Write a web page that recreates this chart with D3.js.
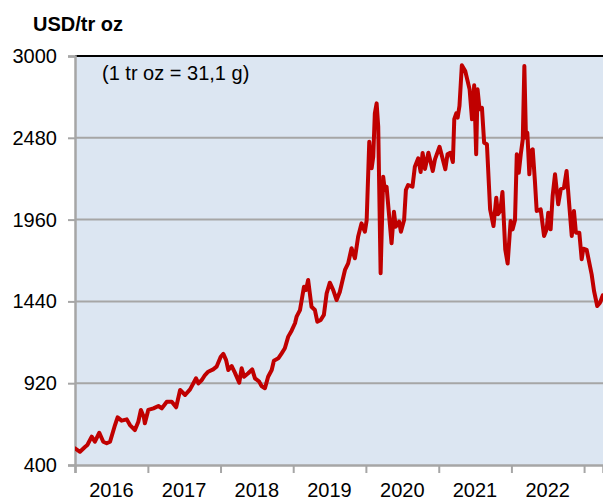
<!DOCTYPE html>
<html><head><meta charset="utf-8">
<script src="https://cdn.jsdelivr.net/npm/d3@7"></script>
<style>
body{margin:0;background:#fff}
svg{display:block}
text{font-family:"Liberation Sans",Arial,Helvetica,sans-serif;fill:#000}
</style>
</head><body>
<svg id="chart" width="603" height="500"></svg>
<script>
// ---- data (palladium price, USD per troy ounce) ----
const dates = [
"2016-01-01","2016-01-26","2016-02-20","2016-03-03","2016-03-25","2016-04-10","2016-05-02","2016-05-22","2016-06-08","2016-06-25",
"2016-07-20","2016-08-02","2016-08-22","2016-09-17","2016-10-03","2016-10-28","2016-11-14","2016-11-27","2016-12-12","2016-12-17",
"2017-01-03","2017-01-29","2017-02-23","2017-03-12","2017-04-06","2017-05-01","2017-05-23","2017-06-12","2017-07-07","2017-08-01",
"2017-08-31","2017-09-12","2017-09-29","2017-10-15","2017-10-31","2017-11-25","2017-12-12",
"2018-01-02","2018-01-15","2018-01-29","2018-02-09","2018-02-26","2018-03-14","2018-04-05","2018-04-17","2018-04-29","2018-05-20",
"2018-06-09","2018-06-23","2018-07-14","2018-07-26","2018-08-12","2018-08-28","2018-09-15","2018-09-26","2018-10-18","2018-11-04",
"2018-11-20","2018-12-07","2018-12-24",
"2019-01-10","2019-01-18","2019-02-04","2019-02-24","2019-03-06","2019-03-17","2019-04-03","2019-04-20","2019-05-02","2019-05-19",
"2019-06-04","2019-06-18","2019-07-04","2019-07-21","2019-08-07","2019-08-23","2019-09-18","2019-10-04","2019-10-21","2019-11-07",
"2019-11-23","2019-12-10","2019-12-27",
"2020-01-05","2020-01-18","2020-01-30","2020-02-07","2020-02-15","2020-02-24","2020-03-03","2020-03-15","2020-03-28","2020-04-05",
"2020-04-14","2020-05-09","2020-05-21","2020-05-30","2020-06-16","2020-06-25","2020-07-11","2020-07-20","2020-07-31","2020-08-22",
"2020-09-03","2020-09-20","2020-10-02","2020-10-12","2020-10-24","2020-11-10","2020-12-02","2020-12-13",
"2021-01-05","2021-01-17","2021-02-03","2021-02-14","2021-02-28","2021-03-13","2021-03-20","2021-03-30","2021-04-06","2021-04-15",
"2021-04-27","2021-05-14","2021-06-05","2021-06-17","2021-06-28","2021-07-08","2021-07-15","2021-07-25","2021-08-06","2021-08-17",
"2021-08-31","2021-09-16","2021-10-03","2021-10-17","2021-10-25","2021-11-06","2021-11-17","2021-12-01","2021-12-13","2021-12-28",
"2022-01-07","2022-01-19","2022-01-28","2022-02-07","2022-02-17","2022-02-27","2022-03-07","2022-03-15","2022-03-22","2022-04-01",
"2022-04-09","2022-04-18","2022-04-29","2022-05-08","2022-05-28","2022-06-14","2022-06-27","2022-07-05","2022-07-17","2022-07-27",
"2022-08-08","2022-08-24","2022-09-06","2022-09-22","2022-10-05","2022-10-19","2022-10-31","2022-11-11","2022-11-21","2022-12-08",
"2022-12-20","2022-12-28",
"2023-01-14","2023-02-08","2023-02-20","2023-03-08","2023-03-22","2023-04-05"
];
const prices = [
506,484,514,527,580,548,605,548,538,548,
654,703,682,690,654,622,675,750,703,665,
750,760,775,760,802,802,767,877,845,881,
951,919,940,972,993,1008,1025,
1088,1106,1067,1004,1029,987,923,1015,961,983,
1008,951,930,902,888,961,1004,1063,1078,1110,
1142,1216,1254,
1301,1343,1385,1533,1512,1576,1406,1385,1311,1322,
1354,1491,1559,1512,1449,1500,1640,1682,1778,1714,
1851,1936,1883,
1957,2455,2286,2360,2636,2699,2551,1619,2233,2148,
2169,1809,2010,1915,1947,1883,1957,2148,2180,2169,
2296,2350,2263,2383,2282,2385,2269,2343,
2423,2364,2280,2375,2385,2326,2598,2636,2608,2682,
2941,2905,2788,2598,2814,2375,2788,2661,2671,2449,
2439,2025,1919,2099,1994,2015,2135,1771,1681,1951,
1898,1957,2375,2258,2375,2470,2936,2481,2512,2248,
2396,2407,2205,2015,2025,1856,1898,2004,1898,2110,
2248,2057,2153,2163,2269,2046,1856,2015,1877,1877,
1708,1775,
1767,1612,1506,1411,1432,1479
];
const yTicks = [400, 920, 1440, 1960, 2480, 3000];
const yearTicks = [2016, 2017, 2018, 2019, 2020, 2021, 2022, 2023];
const yearLabels = ["2016", "2017", "2018", "2019", "2020", "2021", "2022"];
const unitLabel = "USD/tr oz";
const note = "(1 tr oz = 31,1 g)";

// ---- layout ----
const svg = d3.select("#chart");
const L = 75, R = 603, T = 56, B = 465;
const parse = d3.timeParse("%Y-%m-%d");
const data = dates.map((d, i) => ({date: parse(d), v: prices[i]}));

const x = d3.scaleTime().domain([new Date(2016,0,1), new Date(2023,3,6)]).range([L, R]);
const y = d3.scaleLinear().domain([400, 3000]).range([B, T]);

svg.append("rect").attr("x", L).attr("y", T).attr("width", R - L).attr("height", B - T)
  .attr("fill", "#dce6f2");

// gridlines
svg.append("g").selectAll("line").data(yTicks.filter(v => v > 400 && v < 3000)).join("line")
  .attr("x1", L).attr("x2", R).attr("y1", d => y(d)).attr("y2", d => y(d))
  .attr("stroke", "#a6a6a6").attr("stroke-width", 2);

// top border
svg.append("line").attr("x1", L).attr("x2", R).attr("y1", y(3000)).attr("y2", y(3000))
  .attr("stroke", "#000").attr("stroke-width", 2);

// y axis
const yAxis = svg.append("g").attr("transform", `translate(${L},0)`)
  .call(d3.axisLeft(y).tickValues(yTicks).tickSize(7).tickPadding(11).tickFormat(d3.format("d")));
yAxis.select(".domain").attr("stroke", "#a6a6a6").attr("stroke-width", 2.5);
yAxis.selectAll(".tick line").attr("stroke", "#a6a6a6").attr("stroke-width", 2);
yAxis.selectAll(".tick text").attr("font-size", 20).attr("font-family", "'Liberation Sans', Arial, sans-serif")
  .attr("fill", "#000");

// x axis
const xAxis = svg.append("g").attr("transform", `translate(0,${B})`)
  .call(d3.axisBottom(x).tickValues(yearTicks.map(yr => new Date(yr, 0, 1))).tickSize(8).tickFormat(""));
xAxis.select(".domain").attr("stroke", "#a6a6a6").attr("stroke-width", 2.5);
xAxis.selectAll(".tick line").attr("stroke", "#a6a6a6").attr("stroke-width", 2);

svg.append("g").selectAll("text").data(yearLabels).join("text")
  .attr("x", d => x(new Date(+d, 6, 2)))
  .attr("y", 497).attr("text-anchor", "middle").attr("font-size", 20)
  .text(d => d);

// line
svg.append("clipPath").attr("id", "clip").append("rect")
  .attr("x", L).attr("y", T - 5).attr("width", R - L).attr("height", B - T + 10);
svg.append("path").datum(data)
  .attr("clip-path", "url(#clip)")
  .attr("fill", "none").attr("stroke", "#c00000").attr("stroke-width", 4)
  .attr("stroke-linejoin", "round").attr("stroke-linecap", "round")
  .attr("d", d3.line().x(d => x(d.date)).y(d => y(d.v)));

// texts
svg.append("text").attr("x", 33).attr("y", 31).attr("font-size", 20).attr("font-weight", "bold").text(unitLabel);
svg.append("text").attr("x", 102).attr("y", 80).attr("font-size", 20).text(note);
</script>
</body></html>
